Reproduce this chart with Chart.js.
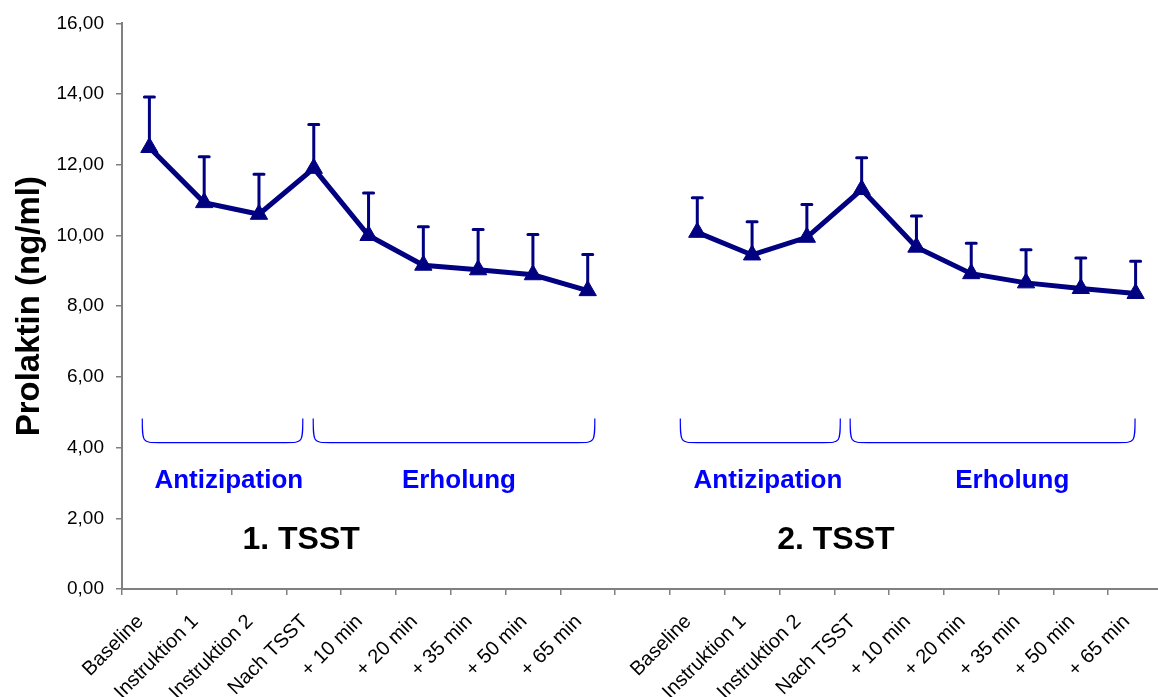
<!DOCTYPE html>
<html>
<head>
<meta charset="utf-8">
<script src="https://cdn.jsdelivr.net/npm/chart.js@4/dist/chart.umd.min.js"></script>
<style>
  html, body { margin: 0; padding: 0; background: #ffffff; overflow: hidden; }
  #wrap { width: 1158px; height: 697px; position: relative; overflow: hidden; }
</style>
</head>
<body>
<div id="wrap"><canvas id="c" width="1174" height="697"></canvas></div>
<script>
// ---- data ----
const categories = ['Baseline', 'Instruktion 1', 'Instruktion 2', 'Nach TSST', '+ 10 min', '+ 20 min', '+ 35 min', '+ 50 min', '+ 65 min',
                    '',
                    'Baseline', 'Instruktion 1', 'Instruktion 2', 'Nach TSST', '+ 10 min', '+ 20 min', '+ 35 min', '+ 50 min', '+ 65 min'];
const tsst1Values = [12.49, 10.93, 10.60, 11.90, 10.00, 9.16, 9.03, 8.89, 8.44];
const tsst1Errors = [1.43, 1.30, 1.13, 1.24, 1.20, 1.09, 1.14, 1.14, 1.02];
const tsst2Values = [10.09, 9.45, 9.95, 11.30, 9.67, 8.92, 8.66, 8.50, 8.36];
const tsst2Errors = [0.98, 0.94, 0.93, 0.90, 0.88, 0.86, 0.94, 0.86, 0.91];
const yTickValues = [0, 2, 4, 6, 8, 10, 12, 14, 16];
const yTickLabels = ['0,00', '2,00', '4,00', '6,00', '8,00', '10,00', '12,00', '14,00', '16,00'];
const yAxisTitle = 'Prolaktin (ng/ml)';
// braces: [fromIndex, toIndex] in category units; heights in value units
const braceRanges = [[-0.13, 2.8], [2.99, 8.13], [9.69, 12.61], [12.79, 17.99]];
const braceTop = 4.82, braceBottom = 4.14;
const phaseLabels = [['Antizipation', 1.45, 3.07], ['Erholung', 5.65, 3.07], ['Antizipation', 11.29, 3.07], ['Erholung', 15.75, 3.07]];
const tsstLabels = [['1. TSST', 2.77, 1.38], ['2. TSST', 12.53, 1.38]];

const FONT = '"Liberation Sans", Arial, sans-serif';
const NAVY = '#000080';

const gap = categories.length - tsst1Values.length - tsst2Values.length;
const data1 = tsst1Values.concat(new Array(gap + tsst2Values.length).fill(null));
const data2 = new Array(tsst1Values.length + gap).fill(null).concat(tsst2Values);
const err1 = tsst1Errors.concat(new Array(gap + tsst2Errors.length).fill(null));
const err2 = new Array(tsst1Errors.length + gap).fill(null).concat(tsst2Errors);

const errorBarPlugin = {
  id: 'errorBars',
  beforeDatasetsDraw(chart) {
    const ctx = chart.ctx;
    const xs = chart.scales.x, ys = chart.scales.y;
    ctx.save();
    ctx.strokeStyle = NAVY;
    ctx.lineWidth = 3;
    ctx.lineCap = 'round';
    chart.data.datasets.forEach((ds) => {
      ds.data.forEach((v, i) => {
        const e = ds.errors[i];
        if (v === null || e === null) return;
        const x = xs.getPixelForValue(i);
        const y0 = ys.getPixelForValue(v);
        const y1 = ys.getPixelForValue(v + e);
        ctx.beginPath();
        ctx.moveTo(x, y0);
        ctx.lineTo(x, y1);
        ctx.moveTo(x - 5, y1);
        ctx.lineTo(x + 5, y1);
        ctx.stroke();
      });
    });
    ctx.restore();
  }
};

const annotationPlugin = {
  id: 'annotations',
  afterDraw(chart) {
    const ctx = chart.ctx;
    const xs = chart.scales.x, ys = chart.scales.y;
    ctx.save();
    ctx.strokeStyle = '#0000FF';
    ctx.lineWidth = 1.2;
    const yt = ys.getPixelForValue(braceTop), yb = ys.getPixelForValue(braceBottom);
    braceRanges.forEach(([a, b]) => {
      const x1 = xs.getPixelForValue(a), x2 = xs.getPixelForValue(b);
      const r = 17;
      ctx.beginPath();
      ctx.moveTo(x1, yt);
      ctx.bezierCurveTo(x1, yb, x1, yb, x1 + r, yb);
      ctx.lineTo(x2 - r, yb);
      ctx.bezierCurveTo(x2, yb, x2, yb, x2, yt);
      ctx.stroke();
    });
    ctx.textAlign = 'center';
    ctx.textBaseline = 'middle';
    ctx.fillStyle = '#0000FF';
    ctx.font = 'bold 26px ' + FONT;
    phaseLabels.forEach(([t, xi, yv]) => {
      ctx.fillText(t, xs.getPixelForValue(xi), ys.getPixelForValue(yv));
    });
    ctx.fillStyle = '#000000';
    ctx.font = 'bold 32px ' + FONT;
    tsstLabels.forEach(([t, xi, yv]) => {
      ctx.fillText(t, xs.getPixelForValue(xi), ys.getPixelForValue(yv));
    });
    ctx.restore();
  }
};

const lineStyle = {
  borderColor: NAVY,
  backgroundColor: NAVY,
  borderWidth: 5,
  pointStyle: 'triangle',
  pointRadius: 10,
  pointHoverRadius: 10,
  pointBackgroundColor: NAVY,
  pointBorderColor: NAVY,
  pointBorderWidth: 1,
  tension: 0,
  spanGaps: false,
  fill: false
};

new Chart(document.getElementById('c'), {
  type: 'line',
  data: {
    labels: categories,
    datasets: [
      Object.assign({ label: '1. TSST', data: data1, errors: err1 }, lineStyle),
      Object.assign({ label: '2. TSST', data: data2, errors: err2 }, lineStyle)
    ]
  },
  options: {
    responsive: false,
    animation: false,
    devicePixelRatio: 1,
    layout: { padding: { top: 22, right: 0, left: 0, bottom: 0 } },
    plugins: { legend: { display: false }, tooltip: { enabled: false } },
    scales: {
      x: {
        type: 'category',
        offset: true,
        grid: { display: true, offset: true, drawOnChartArea: false, drawTicks: true, tickLength: 6, color: '#808080', lineWidth: 1.5 },
        border: { display: true, color: '#808080', width: 2 },
        ticks: {
          autoSkip: false, maxRotation: 45, minRotation: 45, padding: 15, labelOffset: -9,
          color: '#000000', font: { family: FONT, size: 20 }
        },
        afterFit(scale) { scale.height = 108; }
      },
      y: {
        min: 0, max: 16,
        afterBuildTicks(scale) { scale.ticks = yTickValues.map(v => ({ value: v })); },
        grid: { display: true, drawOnChartArea: false, drawTicks: true, tickLength: 6, color: '#808080', lineWidth: 1.5 },
        border: { display: true, color: '#808080', width: 2 },
        ticks: {
          padding: 12, color: '#000000', font: { family: FONT, size: 19 },
          callback(value) { const i = yTickValues.indexOf(value); return i >= 0 ? yTickLabels[i] : ''; }
        },
        title: {
          display: true, text: yAxisTitle, color: '#000000',
          font: { family: FONT, size: 33, weight: 'bold' }, padding: { top: 10, bottom: 0 }
        },
        afterFit(scale) { scale.width = 122; }
      }
    }
  },
  plugins: [errorBarPlugin, annotationPlugin]
});
</script>
</body>
</html>
